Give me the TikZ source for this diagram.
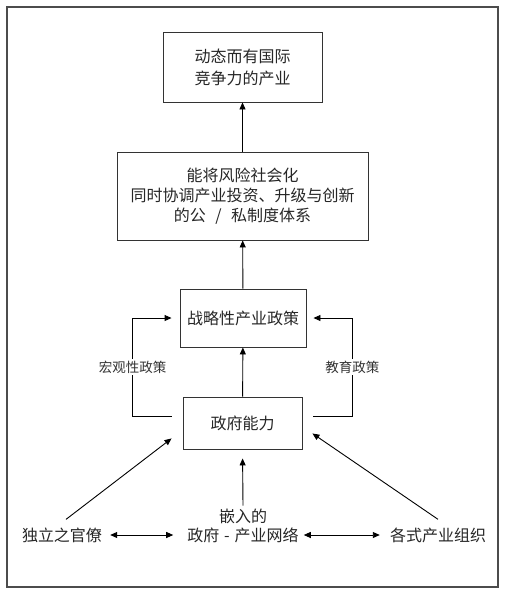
\documentclass[tikz,border=0pt]{standalone}
\usepackage{fontspec}
\setmainfont{Noto Sans CJK SC}
\usetikzlibrary{arrows.meta, positioning}

\begin{document}
\begin{tikzpicture}[x=1pt, y=-1pt,
    box/.style={draw=black!80, line width=0.9pt, align=center, text=black!85},
    txt/.style={align=center, font=\fontsize{16}{19}\selectfont, text=black!85, inner sep=3pt},
    lbl/.style={fill=white, font=\fontsize{13.5}{16}\selectfont, text=black!80, inner sep=2pt},
    tip/.tip={Triangle[length=7pt,width=6pt]},
    arr/.style={-tip, line width=0.9pt},
    darr/.style={tip-tip, line width=0.9pt}]
    \useasboundingbox (0,0) rectangle (508,592);

    % Frame
    \draw[line width=1.3pt, black!70] (7,7) rectangle (498,587);

    % Boxes
    \node[box, minimum width=159pt, minimum height=70pt, font=\fontsize{16}{22}\selectfont]
        (cy) at (242.5,67) {动态而有国际\\竞争力的产业};
    \node[box, minimum width=251pt, minimum height=88pt, font=\fontsize{16}{20}\selectfont]
        (zd) at (242.5,196) {能将风险社会化\\同时协调产业投资、升级与创新\\的公\hspace{0.6em}/\hspace{0.6em}私制度体系};
    \node[box, minimum width=126pt, minimum height=58pt, font=\fontsize{16}{20}\selectfont]
        (zl) at (243,318) {战略性产业政策};
    \node[box, minimum width=119pt, minimum height=52pt, font=\fontsize{16}{20}\selectfont]
        (zf) at (242.5,423) {政府能力};

    % Bottom row
    \node[txt] (gl) at (62,535) {独立之官僚};
    \node[txt, anchor=south] (wl) at (243,546) {嵌入的\\政府\hspace{0.3em}-\hspace{0.3em}产业网络};
    \node[txt] (gr) at (438,535) {各式产业组织};

    % Vertical arrows
    \draw[arr] (zd) -- (cy);
    \draw[arr] (zl) -- (zd);
    \draw[arr] (zf) -- (zl);

    % Policy loops
    \draw[arr, shorten <=11pt, shorten >=8pt] ([yshift=7pt]zf.west) -- ++(-50,0)
        |- node[lbl, pos=.25] {宏观性政策} (zl.west);
    \draw[arr, shorten <=11pt, shorten >=7pt] ([yshift=7pt]zf.east) -- ++(50,0)
        |- node[lbl, pos=.25] {教育政策} (zl.east);

    % Inputs to government capacity
    \draw[arr] ([xshift=4pt,yshift=5pt]gl.north) -- ([xshift=-11pt,yshift=11pt]zf.south west);
    \draw[arr, shorten >=9pt] (wl.north) -- (zf.south);
    \draw[arr] ([yshift=5pt]gr.north) -- ([xshift=10pt,yshift=16pt]zf.south east);

    % Two-way links
    \draw[darr, shorten <=5pt, shorten >=11pt] (gl.east) -- (gl.east -| wl.west);
    \draw[darr, shorten <=2pt, shorten >=7pt] (gr.west -| wl.east) -- (gr.west);
\end{tikzpicture}
\end{document}
